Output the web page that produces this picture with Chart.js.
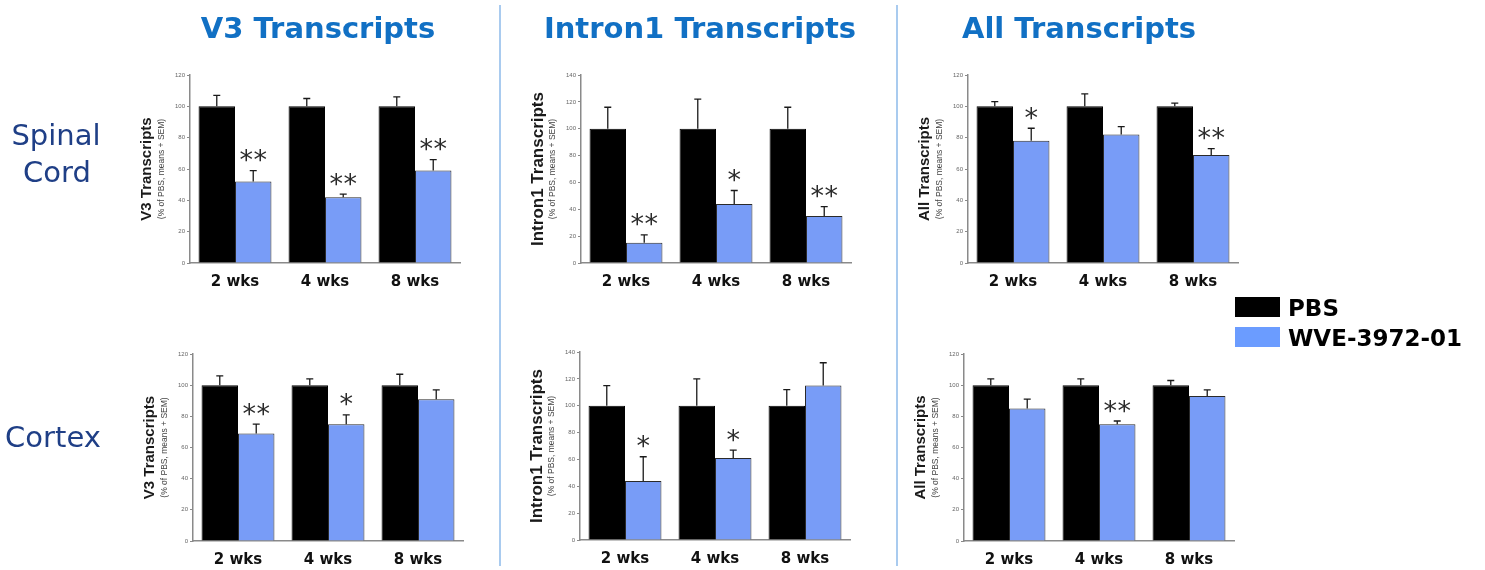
<!DOCTYPE html>
<html>
<head>
<meta charset="utf-8">
<script src="https://cdn.jsdelivr.net/npm/chart.js@4.4.1/dist/chart.umd.min.js"></script>
<style>
  html, body { margin: 0; padding: 0; background: #ffffff; }
  body { width: 1485px; height: 570px; position: relative; overflow: hidden; }
  canvas { position: absolute; }
</style>
</head>
<body>
<canvas id="frame" width="1485" height="570" style="left:0;top:0;width:1485px;height:570px"></canvas>
<script>
// ---- data ----
const categories = ['2 wks', '4 wks', '8 wks'];
const seriesNames = ['PBS', 'WVE-3972-01'];
const transcriptTypes = ['V3 Transcripts', 'Intron1 Transcripts', 'All Transcripts'];
const tissueNames = [['Spinal', 'Cord'], ['Cortex']];
const axisNote = '(% of PBS, means + SEM)';
const tickStep = 20;

// Spinal cord
const v3SpinalPBS = [100, 100, 100];
const v3SpinalPBSsem = [7, 5, 6];
const v3SpinalWVE = [52, 42, 59];
const v3SpinalWVEsem = [7, 2, 7];
const v3SpinalSig = ['**', '**', '**'];

const intronSpinalPBS = [100, 100, 100];
const intronSpinalPBSsem = [16, 22, 16];
const intronSpinalWVE = [15, 44, 35];
const intronSpinalWVEsem = [6, 10, 7];
const intronSpinalSig = ['**', '*', '**'];

const allSpinalPBS = [100, 100, 100];
const allSpinalPBSsem = [3, 8, 2];
const allSpinalWVE = [78, 82, 69];
const allSpinalWVEsem = [8, 5, 4];
const allSpinalSig = ['*', '', '**'];

// Cortex
const v3CortexPBS = [100, 100, 100];
const v3CortexPBSsem = [6, 4, 7];
const v3CortexWVE = [69, 75, 91];
const v3CortexWVEsem = [6, 6, 6];
const v3CortexSig = ['**', '*', ''];

const intronCortexPBS = [100, 100, 100];
const intronCortexPBSsem = [15, 20, 12];
const intronCortexWVE = [44, 61, 115];
const intronCortexWVEsem = [18, 6, 17];
const intronCortexSig = ['*', '*', ''];

const allCortexPBS = [100, 100, 100];
const allCortexPBSsem = [4, 4, 3];
const allCortexWVE = [85, 75, 93];
const allCortexWVEsem = [6, 2, 4];
const allCortexSig = ['', '**', ''];

const yMax = [120, 140, 120];

// ---- styling ----
const PBS_COLOR = '#000000';
const WVE_COLOR = '#789cf7';
const LEGEND_BLUE = '#6b9cff';
const AXIS_COLOR = '#8a8a8a';
const TITLE_BLUE = '#1170c4';
const TISSUE_BLUE = '#1f3f86';

// plot-area boxes for each panel
const panels = [
  { col: 0, left: 190, top: 75,  right: 460,  bottom: 263, pbs: v3SpinalPBS, pbsSem: v3SpinalPBSsem, wve: v3SpinalWVE, wveSem: v3SpinalWVEsem, sig: v3SpinalSig },
  { col: 1, left: 581, top: 75,  right: 851,  bottom: 263, pbs: intronSpinalPBS, pbsSem: intronSpinalPBSsem, wve: intronSpinalWVE, wveSem: intronSpinalWVEsem, sig: intronSpinalSig },
  { col: 2, left: 968, top: 75,  right: 1238, bottom: 263, pbs: allSpinalPBS, pbsSem: allSpinalPBSsem, wve: allSpinalWVE, wveSem: allSpinalWVEsem, sig: allSpinalSig },
  { col: 0, left: 193, top: 354, right: 463,  bottom: 541, pbs: v3CortexPBS, pbsSem: v3CortexPBSsem, wve: v3CortexWVE, wveSem: v3CortexWVEsem, sig: v3CortexSig },
  { col: 1, left: 580, top: 352, right: 850,  bottom: 540, pbs: intronCortexPBS, pbsSem: intronCortexPBSsem, wve: intronCortexWVE, wveSem: intronCortexWVEsem, sig: intronCortexSig },
  { col: 2, left: 964, top: 354, right: 1234, bottom: 541, pbs: allCortexPBS, pbsSem: allCortexPBSsem, wve: allCortexWVE, wveSem: allCortexWVEsem, sig: allCortexSig }
];
const yTitleSize = [15, 17, 15];

// ---- page frame: column titles, tissue labels, dividers, legend ----
(function drawFrame() {
  const ctx = document.getElementById('frame').getContext('2d');
  ctx.fillStyle = '#fff';
  ctx.fillRect(0, 0, 1485, 570);

  // dividers
  ctx.strokeStyle = '#a9cbef';
  ctx.lineWidth = 2;
  [500, 897].forEach(x => {
    ctx.beginPath();
    ctx.moveTo(x, 5);
    ctx.lineTo(x, 566);
    ctx.stroke();
  });

  // column titles
  ctx.fillStyle = TITLE_BLUE;
  ctx.font = 'bold 29px "DejaVu Sans"';
  ctx.textAlign = 'center';
  ctx.textBaseline = 'alphabetic';
  [318, 700, 1079].forEach((x, i) => ctx.fillText(transcriptTypes[i], x, 38));

  // tissue labels
  ctx.fillStyle = TISSUE_BLUE;
  ctx.font = '29px "DejaVu Sans"';
  ctx.fillText(tissueNames[0][0], 56, 145);
  ctx.fillText(tissueNames[0][1], 57, 182);
  ctx.fillText(tissueNames[1][0], 53, 447);

  // legend
  ctx.textAlign = 'left';
  ctx.font = 'bold 23px "DejaVu Sans"';
  ctx.fillStyle = PBS_COLOR;
  ctx.fillRect(1235, 297, 45, 20);
  ctx.fillText(seriesNames[0], 1288, 316);
  ctx.fillStyle = LEGEND_BLUE;
  ctx.fillRect(1235, 327, 45, 20);
  ctx.fillStyle = PBS_COLOR;
  ctx.fillText(seriesNames[1], 1288, 346);
})();

// ---- bar panels ----
function makePanel(p) {
  const padL = 75, padT = 15, padR = 12, padB = 40;
  const w = p.right - p.left + padL + padR;
  const h = p.bottom - p.top + padT + padB;
  const cv = document.createElement('canvas');
  cv.width = w; cv.height = h;
  cv.style.left = (p.left - padL) + 'px';
  cv.style.top = (p.top - padT) + 'px';
  cv.style.width = w + 'px';
  cv.style.height = h + 'px';
  document.body.appendChild(cv);

  const sems = [p.pbsSem, p.wveSem];

  // SEM whiskers above each bar
  const errorBars = {
    id: 'errorBars',
    afterDatasetsDraw(chart) {
      const ctx = chart.ctx, ys = chart.scales.y;
      chart.data.datasets.forEach((ds, i) => {
        chart.getDatasetMeta(i).data.forEach((bar, j) => {
          const top = ys.getPixelForValue(ds.data[j] + sems[i][j]);
          ctx.save();
          ctx.strokeStyle = '#1a1a1a';
          ctx.lineWidth = 1.3;
          ctx.beginPath();
          ctx.moveTo(bar.x, bar.y);
          ctx.lineTo(bar.x, top);
          ctx.moveTo(bar.x - 3.5, top);
          ctx.lineTo(bar.x + 3.5, top);
          ctx.stroke();
          ctx.restore();
        });
      });
    }
  };

  // significance stars and the rotated axis titles
  const annotations = {
    id: 'annotations',
    afterDraw(chart) {
      const ctx = chart.ctx, ys = chart.scales.y, area = chart.chartArea;
      const meta = chart.getDatasetMeta(1);
      ctx.save();
      ctx.fillStyle = '#2b2b2b';
      ctx.font = '27px "DejaVu Sans"';
      ctx.textAlign = 'center';
      ctx.textBaseline = 'alphabetic';
      const m = ctx.measureText('*');
      const off = (m.actualBoundingBoxAscent - m.actualBoundingBoxDescent) / 2;
      p.sig.forEach((s, j) => {
        if (!s) return;
        const bar = meta.data[j];
        const topPx = ys.getPixelForValue(p.wve[j] + p.wveSem[j]);
        const cy = topPx - 15;
        const n = s.length, gap = 14;
        for (let k = 0; k < n; k++) {
          const cx = bar.x + (k - (n - 1) / 2) * gap;
          ctx.fillText('*', cx, cy + off);
        }
      });
      ctx.restore();

      const midY = (area.top + area.bottom) / 2;
      ctx.save();
      ctx.translate(area.left - 43, midY);
      ctx.rotate(-Math.PI / 2);
      ctx.textAlign = 'center';
      ctx.textBaseline = 'middle';
      ctx.fillStyle = '#1a1a1a';
      ctx.font = 'bold ' + yTitleSize[p.col] + 'px "Liberation Sans"';
      ctx.fillText(transcriptTypes[p.col], 0, 0);
      ctx.font = '8.5px "Liberation Sans"';
      ctx.fillStyle = '#444';
      ctx.fillText(axisNote, 0, 15);
      ctx.restore();
    }
  };

  new Chart(cv, {
    type: 'bar',
    data: {
      labels: categories,
      datasets: [
        { label: seriesNames[0], data: p.pbs, backgroundColor: PBS_COLOR, borderColor: '#000', borderWidth: 1 },
        { label: seriesNames[1], data: p.wve, backgroundColor: WVE_COLOR, borderColor: '#2a2a2a', borderWidth: 1 }
      ]
    },
    options: {
      responsive: false,
      animation: false,
      events: [],
      layout: { padding: { left: 0, top: padT, right: padR, bottom: 0 } },
      datasets: { bar: { categoryPercentage: 0.81, barPercentage: 1.0 } },
      plugins: { legend: { display: false }, tooltip: { enabled: false } },
      scales: {
        x: {
          grid: { display: false, drawTicks: false },
          border: { display: true, color: AXIS_COLOR, width: 1.5 },
          ticks: { color: '#111', padding: 10, font: { family: '"DejaVu Sans"', weight: 'bold', size: 15 } },
          afterFit: s => { s.height = padB; }
        },
        y: {
          min: 0,
          max: yMax[p.col],
          ticks: { stepSize: tickStep, color: '#666', padding: 2, font: { family: '"Liberation Sans"', size: 6 } },
          grid: { drawOnChartArea: false, drawTicks: true, tickLength: 3, color: AXIS_COLOR },
          border: { display: true, color: AXIS_COLOR, width: 1.5 },
          afterFit: s => { s.width = padL; }
        }
      }
    },
    plugins: [errorBars, annotations]
  });
}

panels.forEach(makePanel);
</script>
</body>
</html>
